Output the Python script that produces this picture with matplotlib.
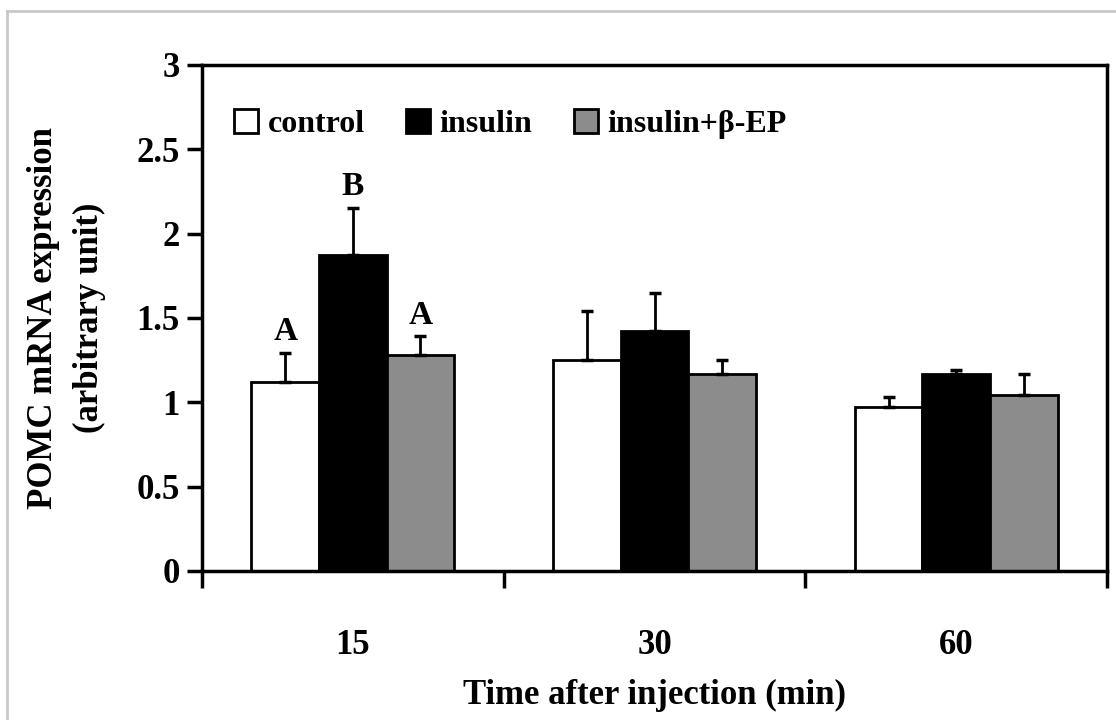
import matplotlib
matplotlib.use('Agg')
import matplotlib.pyplot as plt
import numpy as np
from matplotlib.lines import Line2D

plt.rcParams.update({
    'font.family': ['Liberation Serif', 'DejaVu Serif'],
    'font.weight': 'bold',
})

# ── data ──
times = ['15', '30', '60']
groups = ['control', 'insulin', 'insulin+β-EP']
control = [1.12, 1.25, 0.97]
control_err = [0.17, 0.29, 0.06]
insulin = [1.87, 1.42, 1.17]
insulin_err = [0.28, 0.23, 0.02]
ins_bep = [1.28, 1.17, 1.04]
ins_bep_err = [0.11, 0.08, 0.13]
letters = {0: ['A', 'B', 'A']}

series = [control, insulin, ins_bep]
errs = [control_err, insulin_err, ins_bep_err]
colors = ['white', 'black', '#8c8c8c']

fig = plt.figure(figsize=(11.16, 7.2), dpi=100, facecolor='white')
ax = fig.add_axes([0.181, 0.207, 0.811, 0.703])

x = np.arange(len(times))
w = 0.224
for i, (vals, err, c) in enumerate(zip(series, errs, colors)):
    pos = x + (i - 1) * w
    ax.bar(pos, vals, w, color=c, edgecolor='black', linewidth=2, label=groups[i], zorder=2)
    ax.errorbar(pos, vals, yerr=[np.zeros(len(vals)), err], fmt='none',
                ecolor='black', elinewidth=2, capsize=4, capthick=2.5, zorder=3)

# significance letters
for gi, labs in letters.items():
    for i, lab in enumerate(labs):
        top = series[i][gi] + errs[i][gi]
        ax.text(gi + (i - 1) * w, top + 0.035, lab, ha='center', va='bottom',
                fontsize=24, fontweight='bold')

ax.set_xlim(-0.5, 2.5)
ax.set_ylim(0, 3)
ax.set_yticks([0, 0.5, 1, 1.5, 2, 2.5, 3])
ax.set_yticklabels(['0', '0.5', '1', '1.5', '2', '2.5', '3'])
ax.set_xticks(x)
ax.set_xticklabels(times)
ax.set_xticks([-0.5, 0.5, 1.5, 2.5], minor=True)
ax.tick_params(axis='x', which='major', length=0, labelsize=25, pad=42)
ax.tick_params(axis='x', which='minor', length=12, width=2.5, direction='out')
ax.tick_params(axis='y', length=11, width=2.5, direction='out', labelsize=25, pad=5)
for s in ax.spines.values():
    s.set_linewidth(2.5)

ax.set_xlabel('Time after injection (min)', fontsize=25, fontweight='bold', labelpad=12)
ax.set_ylabel('POMC mRNA expression\n(arbitrary unit)', fontsize=25, fontweight='bold',
              labelpad=22, linespacing=1.5)

ax.legend(loc='upper left', bbox_to_anchor=(0.0, 0.975), ncol=3, frameon=False,
          fontsize=23, handlelength=0.75, handleheight=0.75, handletextpad=0.3,
          columnspacing=1.3, borderaxespad=0.6)

# light outer frame (top and left edges)
fig.add_artist(Line2D([0.0063, 0.0063], [0, 0.985], transform=fig.transFigure,
                      color='#c8c8c8', lw=2))
fig.add_artist(Line2D([0.0063, 1.0], [0.985, 0.985], transform=fig.transFigure,
                      color='#c8c8c8', lw=2))

fig.savefig('out.png', dpi=100, facecolor='white')
